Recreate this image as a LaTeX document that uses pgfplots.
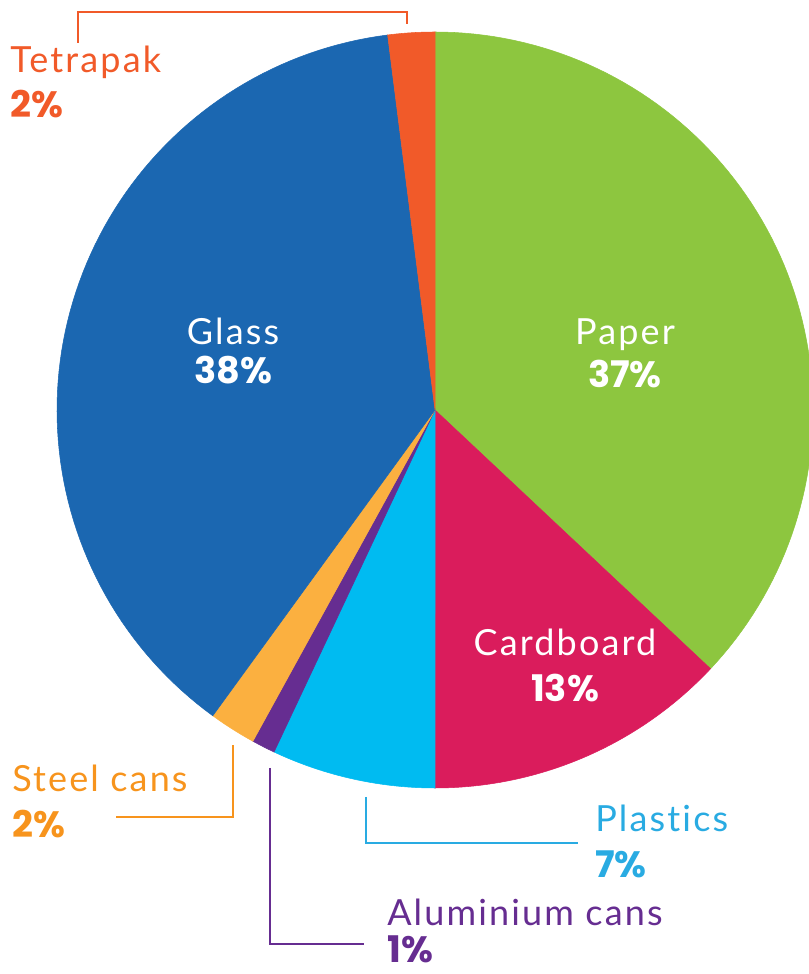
\documentclass[border=0pt]{standalone}
\usepackage{pgfplots}
\pgfplotsset{compat=1.18}
\usepackage{pgfplotstable}
\usepackage{fontspec}
\setmainfont{Lato}[LetterSpace=6, Ligatures={NoCommon, NoRequired, NoContextual, NoDiscretionary}]
\newfontfamily\numfont{Poppins}
\definecolor{cPaper}{HTML}{8DC63F}
\definecolor{cCard}{HTML}{DA1C5C}
\definecolor{cPlast}{HTML}{00BBF1}
\definecolor{cAlu}{HTML}{662D91}
\definecolor{cSteel}{HTML}{FBB040}
\definecolor{cGlass}{HTML}{1B67B1}
\definecolor{cTetra}{HTML}{F15A29}
\definecolor{tSteel}{HTML}{F7941D}
\definecolor{tPlast}{HTML}{29ABE2}

\pgfplotstableread{
name value
Paper 37
Cardboard 13
Plastics 7
Aluminium 1
Steel 2
Glass 38
Tetrapak 2
}\piedata

\newcommand\angLo[1]{\csname anglo#1\endcsname}
\newcommand\angHi[1]{\csname anghi#1\endcsname}
\newcommand\slice[2]{%
  \addplot[fill=#2, draw=#2, line width=0.4pt, domain=\angLo{#1}:\angHi{#1}, samples=90, variable=\t]
    ({435+378*cos(\t)},{564+378*sin(\t)}) -- (axis cs:435,564) -- cycle;}
\newcommand\lab{\fontsize{27}{30}\selectfont}
\newcommand\num{\fontsize{27.5}{30}\selectfont\numfont\bfseries}

\begin{document}
\begin{tikzpicture}
\gdef\cum{0}
\foreach \i in {0,...,6}{%
  \pgfplotstablegetelem{\i}{value}\of\piedata
  \pgfmathsetmacro\hiv{90-3.6*\cum}%
  \pgfmathsetmacro\lov{90-3.6*(\cum+\pgfplotsretval)}%
  \expandafter\xdef\csname anghi\i\endcsname{\hiv}%
  \expandafter\xdef\csname anglo\i\endcsname{\lov}%
  \pgfmathsetmacro\newcum{\cum+\pgfplotsretval}%
  \xdef\cum{\newcum}%
}
\begin{axis}[scale only axis, width=606.75pt, height=730.5pt,
  xmin=0, xmax=809, ymin=0, ymax=974, hide axis, clip=true]
\slice{0}{cPaper}
\slice{1}{cCard}
\slice{2}{cPlast}
\slice{3}{cAlu}
\slice{4}{cSteel}
\slice{5}{cGlass}
\slice{6}{cTetra}

% leader lines
\draw[cTetra, line width=2.2pt] (axis cs:78,931) -- (axis cs:78,962) -- (axis cs:407,962) -- (axis cs:407,950);
\draw[tSteel, line width=2.2pt] (axis cs:116,157) -- (axis cs:233,157) -- (axis cs:233,229);
\draw[tPlast, line width=2.2pt] (axis cs:366,177) -- (axis cs:366,131) -- (axis cs:578,131);
\draw[cAlu, line width=2.2pt] (axis cs:270,206) -- (axis cs:270,30) -- (axis cs:364,30);

% labels
\node[anchor=base west, inner sep=0, text=cTetra] at (axis cs:10,901) {\lab Tetrapak};
\node[anchor=base west, inner sep=0, text=cTetra] at (axis cs:10,856) {\num 2\%};
\node[anchor=base, inner sep=0, text=white] at (axis cs:233,629) {\lab Glass};
\node[anchor=base, inner sep=0, text=white] at (axis cs:233,590) {\num 38\%};
\node[anchor=base, inner sep=0, text=white] at (axis cs:625,629) {\lab Paper};
\node[anchor=base, inner sep=0, text=white] at (axis cs:625,586) {\num 37\%};
\node[anchor=base, inner sep=0, text=white] at (axis cs:565,318) {\lab Cardboard};
\node[anchor=base, inner sep=0, text=white] at (axis cs:565,272) {\num 13\%};
\node[anchor=base west, inner sep=0, text=tSteel] at (axis cs:12,182) {\lab Steel cans};
\node[anchor=base west, inner sep=0, text=tSteel] at (axis cs:12,136) {\num 2\%};
\node[anchor=base west, inner sep=0, text=tPlast] at (axis cs:595,142) {\lab Plastics};
\node[anchor=base west, inner sep=0, text=tPlast] at (axis cs:595,96) {\num 7\%};
\node[anchor=base west, inner sep=0, text=cAlu] at (axis cs:387,48) {\lab Aluminium cans};
\node[anchor=base west, inner sep=0, text=cAlu] at (axis cs:387,12) {\num 1\%};
\end{axis}
\path (current axis.south west) rectangle (current axis.north east);
\end{tikzpicture}
\end{document}
